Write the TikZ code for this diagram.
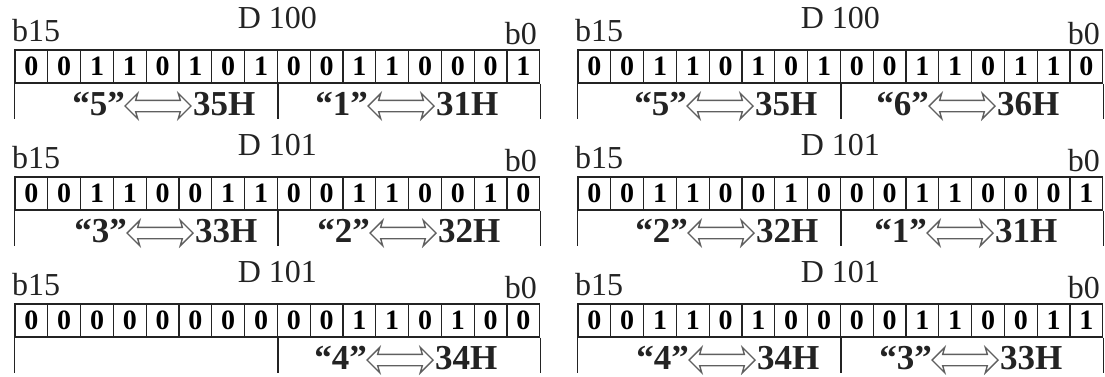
\documentclass[tikz,border=0pt]{standalone}
\usepackage{fontspec}
\setmainfont{Liberation Serif}
\usetikzlibrary{positioning,shapes.arrows}
\definecolor{regline}{RGB}{35,35,35}
\definecolor{arrline}{RGB}{95,95,95}

\begin{document}
\begin{tikzpicture}[x=1pt,y=-1pt,
    bitcell/.style={draw=regline,line width=1.2pt,minimum width=32.8pt,minimum height=33pt,inner sep=0pt,
      font=\fontsize{28}{30}\selectfont\bfseries},
    reglabel/.style={inner sep=0pt,font=\fontsize{32}{34}\selectfont,text=regline},
    hexlabel/.style={inner sep=0pt,font=\fontsize{35}{37}\selectfont\bfseries,text=regline},
    dblarrow/.style={double arrow,draw=arrline,fill=white,line width=1.4pt,minimum height=66pt,
      inner xsep=0pt,inner ysep=5pt,double arrow head extend=7pt,double arrow head indent=2pt},
    tick/.style={draw=regline,line width=1.2pt}]
  \useasboundingbox (0,0) rectangle (1105,376);
  % registers: number / left x / top y / name / bits b15..b0
  \foreach \p/\px/\py/\reg/\bits in {
      1/15/50/100/{0,0,1,1,0,1,0,1,0,0,1,1,0,0,0,1},
      2/578/50/100/{0,0,1,1,0,1,0,1,0,0,1,1,0,1,1,0},
      3/15/177/101/{0,0,1,1,0,0,1,1,0,0,1,1,0,0,1,0},
      4/578/177/101/{0,0,1,1,0,0,1,0,0,0,1,1,0,0,0,1},
      5/15/304/101/{0,0,0,0,0,0,0,0,0,0,1,1,0,1,0,0},
      6/578/304/101/{0,0,1,1,0,1,0,0,0,0,1,1,0,0,1,1}} {
    \foreach \b [count=\j] in \bits {
      \node[bitcell] (p\p-\j) at ({\px+(\j-0.5)*32.8},{\py+16.5}) {\b};
    }
    \node[reglabel,anchor=base west] (p\p-msb) at ({\px-3},{\py-9}) {b15};
    \node[reglabel,anchor=base east] (p\p-lsb) at ({\px+522},{\py-6}) {b0};
    \node[reglabel,anchor=base] (p\p-name) at ({\px+262.4},{\py-22}) {D \reg};
    % byte separators below the register
    \coordinate (p\p-e1) at ([yshift=-35pt]p\p-1.south west);
    \coordinate (p\p-e2) at ([yshift=-35pt]p\p-8.south east);
    \coordinate (p\p-e3) at ([yshift=-35pt]p\p-16.south east);
    \draw[tick] (p\p-1.south west) -- (p\p-e1);
    \draw[tick] (p\p-8.south east) -- (p\p-e2);
    \draw[tick] (p\p-16.south east) -- (p\p-e3);
  }
  % character <=> ASCII code
  \foreach \n/\ax/\ay/\ch/\hx in {
      a/158/50/5/35, b/401/50/1/31, c/720/50/5/35, d/962/50/6/36,
      e/160/177/3/33, f/403/177/2/32, g/721/177/2/32, h/960/177/1/31,
      i/400/304/4/34, j/722/304/4/34, k/965/304/3/33} {
    \node[dblarrow] (\n-arr) at (\ax,{\ay+56}) {};
    \coordinate (\n-base) at (\ax,{\ay+65});
    \node[hexlabel,anchor=base east,xshift=1pt] (\n-chr) at (\n-arr.west |- \n-base) {“\ch”};
    \node[hexlabel,anchor=base west,xshift=1pt] (\n-hex) at (\n-arr.east |- \n-base) {\hx H};
  }
\end{tikzpicture}
\end{document}
